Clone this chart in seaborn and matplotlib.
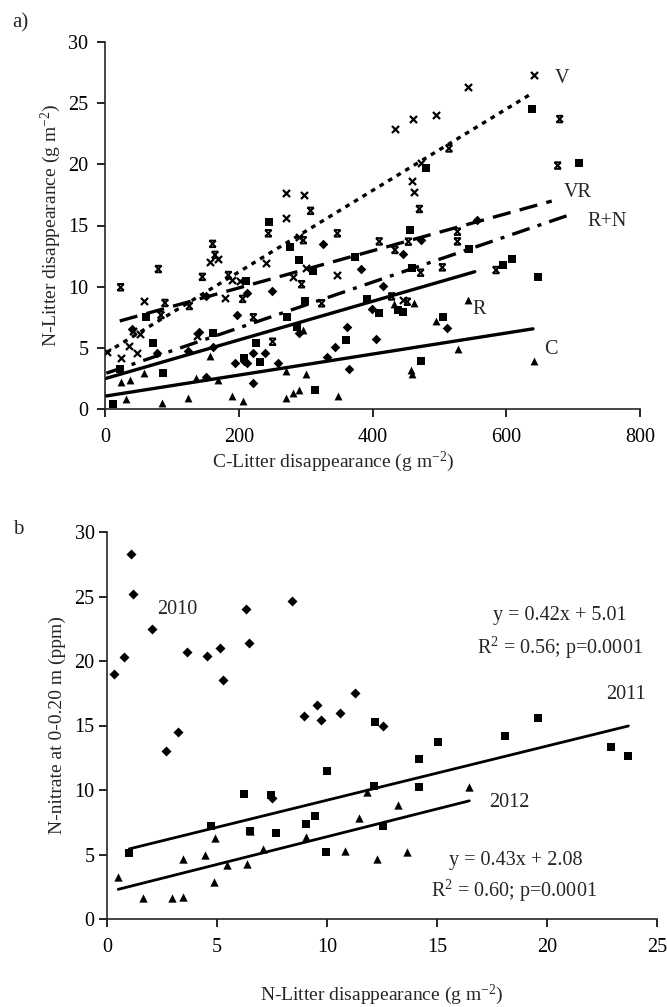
import numpy as np
import pandas as pd
import matplotlib
matplotlib.use("Agg")
import matplotlib.pyplot as plt
from matplotlib.path import Path
import seaborn as sns

# ---------------- Panel a data ----------------
v_x = [3, 23.4, 36.4, 48.3, 42.3, 52.3, 58.3, 137, 157, 169.4, 179.4, 189.4, 201.9, 240.3,
       270.7, 270.7, 297.6, 280.6, 290, 300.6, 347.4, 433.6, 460, 458.6, 462, 472, 495,
       543.3, 641.5, 446]
v_y = [4.7, 4.2, 5.15, 4.6, 6.38, 6.1, 8.85, 5.97, 12.0, 12.3, 9.05, 10.55, 10.49, 11.9,
       15.64, 17.63, 17.5, 10.76, 14.1, 11.5, 10.95, 22.86, 23.7, 18.66, 17.7, 20.1, 24.0,
       26.35, 27.3, 8.9]

vr_x = [23.4, 79.7, 89.7, 83.7, 126, 145.5, 161, 164.5, 184.4, 205.9, 221.8, 244.2, 250.7,
        294, 296.5, 307.5, 324, 347.4, 410, 433.6, 428.7, 452, 453.6, 470, 472, 504.4,
        514.4, 527, 527, 584.7, 677, 680]
vr_y = [9.95, 11.44, 8.67, 7.68, 8.42, 10.8, 13.5, 12.6, 10.95, 9.0, 7.5, 14.36, 5.5,
        10.2, 13.8, 16.2, 8.64, 14.36, 13.7, 13.0, 9.2, 8.77, 13.68, 16.35, 11.14, 11.58,
        21.3, 14.5, 13.7, 11.36, 19.9, 23.7]

rn_x = [12.4, 22.4, 60.8, 72.3, 87.2, 162, 207.9, 210.4, 225.8, 231.8, 245.7, 271.6, 276.6,
        287.6, 290.6, 299, 311.5, 314, 360.4, 373.8, 391.3, 410.2, 438.6, 445, 456, 458.6,
        472, 480, 505.9, 544.8, 595.6, 609, 638, 648, 709]
rn_y = [0.4, 3.24, 7.5, 5.37, 2.97, 6.19, 4.14, 10.49, 5.37, 3.87, 15.3, 7.55, 13.27,
        6.73, 12.18, 8.83, 11.28, 1.55, 5.64, 12.45, 8.97, 7.87, 8.1, 7.96, 14.6, 11.55,
        3.92, 19.7, 7.5, 13.05, 11.77, 12.3, 24.5, 10.8, 20.1]

r_x = [40.9, 78.2, 124.6, 141, 151, 151, 162, 194.4, 196.9, 207.9, 211.9, 211.9, 220.8,
       221.8, 239.3, 249.2, 259.2, 290.1, 326.5, 331.5, 343.9, 362.3, 365.3, 382.8, 398.8,
       405.2, 416, 445, 472, 511, 556]
r_y = [6.51, 4.6, 4.77, 6.32, 2.64, 9.24, 5.04, 3.73, 7.66, 3.92, 3.73, 9.46, 2.15,
       4.6, 4.55, 9.65, 3.79, 6.19, 13.5, 4.28, 5.04, 6.68, 3.24, 11.44, 8.17,
       5.7, 10.05, 12.7, 13.8, 6.6, 15.45]

c_x = [23.4, 31.4, 37.4, 58.8, 84.7, 123.6, 136, 157, 169.5, 189.4, 206.9, 270.2, 270.2,
       280.6, 290.6, 296.5, 300.1, 348, 432, 457, 459.5, 462.5, 495, 528.3, 543.3, 641.5]
c_y = [2.24, 0.79, 2.37, 2.92, 0.46, 0.93, 2.56, 4.33, 2.37, 1.09, 0.65, 3.1, 0.87,
       1.28, 1.55, 6.46, 2.86, 1.06, 8.6, 3.19, 2.86, 8.64, 7.22, 4.9, 8.9, 3.92]

# trend lines (panel a)
fit_names = ["V", "VR", "R+N", "R", "C"]
fit_slope = [0.0333, 0.01518, 0.01869, 0.01581, 0.0086]
fit_icpt = [4.54, 6.86, 2.89, 2.48, 1.05]
fit_xmin = [2, 22, 2, 1.5, 1.5]
fit_xmax = [638, 668, 698, 553, 640]
lab_x = [683, 707, 751, 560, 666]
lab_y = [27.0, 17.7, 15.3, 8.1, 4.9]

# ---------------- Panel b data ----------------
y10_x = [0.32, 0.79, 1.08, 1.18, 2.03, 2.67, 3.23, 3.64, 4.53, 5.12, 5.29, 6.30, 6.44,
         7.5, 8.42, 8.94, 9.56, 9.73, 10.59, 11.29, 12.56]
y10_y = [19.0, 20.3, 28.3, 25.2, 22.5, 13.05, 14.5, 20.7, 20.4, 21.0, 18.5, 24.0, 21.4,
         9.4, 24.65, 15.76, 16.6, 15.4, 16.0, 17.5, 15.0]

y11_x = [1.01, 4.73, 6.24, 6.48, 7.45, 7.68, 9.06, 9.47, 9.98, 9.94, 12.14, 12.2, 12.53,
         14.2, 14.2, 15.06, 18.1, 19.6, 22.9, 23.7]
y11_y = [5.09, 7.19, 9.69, 6.82, 9.61, 6.67, 7.39, 7.98, 11.47, 5.22, 10.33, 15.25, 7.19,
         12.4, 10.2, 13.75, 14.2, 15.6, 13.36, 12.66]

y12_x = [0.51, 1.62, 2.94, 3.47, 3.47, 4.44, 4.85, 4.91, 5.47, 6.38, 6.48, 7.08, 9.06,
         10.83, 11.44, 11.8, 12.29, 13.24, 13.65, 16.47]
y12_y = [3.26, 1.6, 1.6, 1.73, 4.65, 4.96, 2.89, 6.25, 4.19, 4.24, 6.82, 5.43, 6.38,
         5.3, 7.8, 9.87, 4.65, 8.84, 5.17, 10.26]

b_slope = [0.42, 0.43]
b_icpt = [5.01, 2.08]

# ---------------- Style ----------------
sns.set_style("ticks")
plt.rcParams["font.family"] = ["Liberation Serif", "DejaVu Serif"]
plt.rcParams["mathtext.fontset"] = "custom"
plt.rcParams["mathtext.rm"] = "Liberation Serif"
plt.rcParams["mathtext.it"] = "Liberation Serif:italic"
plt.rcParams["mathtext.bf"] = "Liberation Serif:bold"
plt.rcParams["axes.linewidth"] = 1.2
plt.rcParams["xtick.major.width"] = 1.2
plt.rcParams["ytick.major.width"] = 1.2
plt.rcParams["xtick.major.size"] = 6
plt.rcParams["ytick.major.size"] = 6

TICK_FS = 14.5
LAB_FS = 14
TXT_FS = 14.5

# star marker (X with top and bottom bars)
star_path = Path(
    [(-1, -1), (1, 1), (-1, 1), (1, -1), (-1, 1), (1, 1), (-1, -1), (1, -1)],
    [Path.MOVETO, Path.LINETO, Path.MOVETO, Path.LINETO,
     Path.MOVETO, Path.LINETO, Path.MOVETO, Path.LINETO])

fig = plt.figure(figsize=(6.67, 10.07), dpi=100)
ax_a = fig.add_axes([105 / 667, 1 - 409 / 1007, 535 / 667, 367 / 1007])
ax_b = fig.add_axes([107 / 667, 1 - 919 / 1007, 550 / 667, 387 / 1007])

# ---------------- Panel a ----------------
sns.scatterplot(x=v_x, y=v_y, marker="x", color="black", s=26, linewidth=1.6, ax=ax_a)
sns.scatterplot(x=vr_x, y=vr_y, marker=star_path, facecolor="none", edgecolor="black",
                s=22, linewidth=1.4, ax=ax_a)
sns.scatterplot(x=rn_x, y=rn_y, marker="s", color="black", edgecolor="black",
                s=32, linewidth=0, ax=ax_a)
sns.scatterplot(x=r_x, y=r_y, marker="D", color="black", edgecolor="black",
                s=24, linewidth=0, ax=ax_a)
sns.scatterplot(x=c_x, y=c_y, marker="^", color="black", edgecolor="black",
                s=32, linewidth=0, ax=ax_a)

line_styles = {
    "V": (0, (1.4, 1.6)),
    "VR": (0, (5.5, 2.8)),
    "R+N": (0, (5.5, 2.5, 1.2, 2.5)),
    "R": "-",
    "C": "-",
}
for name, m, b, x0, x1 in zip(fit_names, fit_slope, fit_icpt, fit_xmin, fit_xmax):
    xs = np.array([x0, x1], dtype=float)
    df = pd.DataFrame({"x": xs, "y": m * xs + b})
    sns.lineplot(data=df, x="x", y="y", color="black", linewidth=2.4,
                 linestyle=line_styles[name], ax=ax_a)

for name, tx, ty in zip(fit_names, lab_x, lab_y):
    ax_a.text(tx, ty, name, fontsize=TXT_FS, ha="center", va="center")

ax_a.set_xlim(0, 800)
ax_a.set_ylim(0, 30)
ax_a.set_xticks(np.arange(0, 801, 200))
ax_a.set_yticks(np.arange(0, 31, 5))
ax_a.tick_params(labelsize=TICK_FS, colors="black")
ax_a.tick_params(axis="y", pad=6)
ax_a.tick_params(axis="x", pad=8)
ax_a.set_xlabel("C-Litter disappearance (g m$^{-2}$)", fontsize=LAB_FS)
ax_a.xaxis.set_label_coords(0.426, -0.112)
ax_a.set_ylabel("N-Litter disappearance (g m$^{-2}$)", fontsize=LAB_FS, labelpad=4)
sns.despine(ax=ax_a)
fig.text(12 / 667, 1 - 23 / 1007, "a)", fontsize=15, ha="left", va="center")

# ---------------- Panel b ----------------
sns.scatterplot(x=y10_x, y=y10_y, marker="D", color="black", edgecolor="black",
                s=26, linewidth=0, ax=ax_b)
sns.scatterplot(x=y11_x, y=y11_y, marker="s", color="black", edgecolor="black",
                s=28, linewidth=0, ax=ax_b)
sns.scatterplot(x=y12_x, y=y12_y, marker="^", color="black", edgecolor="black",
                s=36, linewidth=0, ax=ax_b)

for xs_src, m, b in zip([y11_x, y12_x], b_slope, b_icpt):
    xs = np.array([min(xs_src), max(xs_src)])
    df = pd.DataFrame({"x": xs, "y": m * xs + b})
    sns.lineplot(data=df, x="x", y="y", color="black", linewidth=2.0, ax=ax_b)

ax_b.text(3.2, 24.0, "2010", fontsize=TXT_FS, ha="center", va="center")
ax_b.text(20.6, 23.5, "y = 0.42x + 5.01", fontsize=TXT_FS, ha="center", va="center")
ax_b.text(20.6, 21.0, "R$^2$ = 0.56; p=0.0001", fontsize=TXT_FS, ha="center", va="center")
ax_b.text(23.6, 17.4, "2011", fontsize=TXT_FS, ha="center", va="center")
ax_b.text(18.3, 9.06, "2012", fontsize=TXT_FS, ha="center", va="center")
ax_b.text(18.6, 4.57, "y = 0.43x + 2.08", fontsize=TXT_FS, ha="center", va="center")
ax_b.text(18.5, 2.2, "R$^2$ = 0.60; p=0.0001", fontsize=TXT_FS, ha="center", va="center")

ax_b.set_xlim(0, 25)
ax_b.set_ylim(0, 30)
ax_b.set_xticks(np.arange(0, 26, 5))
ax_b.set_yticks(np.arange(0, 31, 5))
ax_b.tick_params(labelsize=TICK_FS, colors="black")
ax_b.tick_params(axis="y", pad=3)
ax_b.tick_params(axis="x", pad=8)
ax_b.set_xlabel("N-Litter disappearance (g m$^{-2}$)", fontsize=LAB_FS, labelpad=18)
ax_b.set_ylabel("N-nitrate at 0-0.20 m (ppm)", fontsize=LAB_FS, labelpad=6)
sns.despine(ax=ax_b)
fig.text(13 / 667, 1 - 530 / 1007, "b", fontsize=15, ha="left", va="center")

for ax in (ax_a, ax_b):
    leg = ax.get_legend()
    if leg is not None:
        leg.remove()

fig.savefig("out.png", dpi=100)
